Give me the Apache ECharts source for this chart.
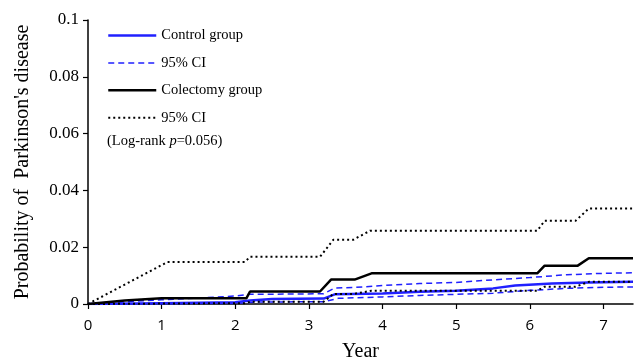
<!DOCTYPE html>
<html><head><meta charset="utf-8">
<script src="https://cdn.jsdelivr.net/npm/echarts@6/dist/echarts.min.js"></script>
<style>html,body{margin:0;padding:0;background:#fff}#c{width:638px;height:360px}</style>
</head><body><div id="c"></div>
<script>
// Data (year, probability)
const colectomy = [[0,0],[0.5,0.0012],[1.0,0.002],[2.15,0.002],[2.2,0.0044],[3.15,0.0044],[3.3,0.0086],[3.62,0.0086],[3.85,0.0108],[6.1,0.0108],[6.2,0.0135],[6.65,0.0135],[6.8,0.0161],[7.4,0.0161]];
const colectomyUpper = [[0,0],[1.08,0.0148],[2.13,0.0148],[2.2,0.0166],[3.15,0.0166],[3.33,0.0226],[3.6,0.0226],[3.83,0.0258],[6.1,0.0258],[6.2,0.0293],[6.62,0.0293],[6.8,0.0336],[7.4,0.0336]];
const colectomyLower = [[0,0],[2.15,0.0003],[2.2,0.0008],[3.2,0.0008],[3.33,0.0035],[3.6,0.0035],[3.85,0.0047],[6.1,0.0047],[6.2,0.0061],[6.62,0.0061],[6.8,0.0078],[7.4,0.0078]];
const control = [[0,0],[1,0.0003],[2,0.0006],[2.2,0.0012],[2.5,0.0018],[3.2,0.0019],[3.35,0.0034],[4,0.0037],[4.5,0.0043],[5,0.0047],[5.5,0.0055],[5.8,0.0065],[6.3,0.0072],[6.8,0.0076],[7.4,0.0078]];
const controlUpper = [[0,0],[1,0.0015],[2,0.0028],[2.2,0.0034],[3.2,0.0036],[3.35,0.0056],[3.6,0.0058],[4,0.0065],[4.5,0.0072],[5,0.0076],[5.5,0.0085],[6,0.0093],[6.5,0.0103],[7,0.0108],[7.4,0.011]];
const controlLower = [[0,0],[2,0.0002],[2.3,0.0007],[3.2,0.0008],[3.4,0.002],[4,0.0025],[4.5,0.003],[5,0.0034],[5.5,0.0038],[6,0.0048],[6.5,0.0055],[7,0.0059],[7.4,0.006]];
const xTicks = [0,1,2,3,4,5,6,7];
const legendNames = ['Control group','Control 95% CI','Colectomy group','Colectomy 95% CI'];
const legendLabels = {'Control group':'Control group','Control 95% CI':'95% CI','Colectomy group':'Colectomy group','Colectomy 95% CI':'95% CI'};

const BLUE = '#2020ff';
const serif = '"Liberation Serif","Times New Roman",serif';
const styles = {
  'Control group':{color:BLUE, width:2.5, type:'solid'},
  'Control 95% CI':{color:BLUE, width:1.5, type:[6,4]},
  'Colectomy group':{color:'#000', width:2.5, type:'solid'},
  'Colectomy 95% CI':{color:'#000', width:2, type:[2,3]}
};
function s(name, data, st) {
  return {name, type:'line', data, symbol:'none', showSymbol:false, silent:true,
    lineStyle:{color:st.color, width:st.width, type:st.type}, itemStyle:{color:st.color}, z: 3};
}
const chart = echarts.init(document.getElementById('c'), null, {renderer:'canvas'});
chart.setOption({
  animation:false,
  grid:{left:88, top:20, right:5, bottom:56, containLabel:false, outerBoundsMode:'none'},
  xAxis:{type:'value', min:0, max:7.4, interval:1,
    name:'Year', nameLocation:'middle', nameGap:38,
    nameTextStyle:{fontFamily:serif, fontSize:20, color:'#000'},
    axisLine:{lineStyle:{color:'#000', width:1.5}},
    axisTick:{show:true, length:5, lineStyle:{color:'#000', width:1.2}, customValues:xTicks},
    axisLabel:{customValues:xTicks, color:'#000', fontFamily:'"Open Sans",sans-serif', fontSize:15, margin:14},
    splitLine:{show:false}},
  yAxis:{type:'value', min:0, max:0.1, interval:0.02,
    name:"Probability of  Parkinson's disease", nameLocation:'middle', nameGap:55, nameRotate:90,
    nameTextStyle:{fontFamily:serif, fontSize:20, color:'#000'},
    axisLine:{show:true, lineStyle:{color:'#000', width:1.5}},
    axisTick:{show:true, length:5, lineStyle:{color:'#000', width:1.2}},
    axisLabel:{color:'#000', fontFamily:serif, fontSize:17, margin:9},
    splitLine:{show:false}},
  legend:{data:legendNames.map(n=>({name:n, lineStyle:styles[n]})), orient:'vertical', left:102, top:23,
    itemWidth:48, itemHeight:14, itemGap:12.4,
    itemStyle:{opacity:0},
    formatter:n=>legendLabels[n],
    textStyle:{fontFamily:serif, fontSize:14.5, color:'#000'}},
  graphic:[{type:'text', left:107, top:134, silent:true,
    style:{text:'(Log-rank {i|p}=0.056)', font:'14.5px '+serif, fill:'#000',
      rich:{i:{fontStyle:'italic', fontFamily:serif, fontSize:14.5, fill:'#000'}}}}],
  series:[
    s('Control group', control, styles['Control group']),
    s('Control 95% CI', controlUpper, styles['Control 95% CI']),
    s('Control 95% CI lower', controlLower, styles['Control 95% CI']),
    s('Colectomy group', colectomy, styles['Colectomy group']),
    s('Colectomy 95% CI', colectomyUpper, styles['Colectomy 95% CI']),
    s('Colectomy 95% CI lower', colectomyLower, styles['Colectomy 95% CI'])
  ]
});
</script></body></html>
